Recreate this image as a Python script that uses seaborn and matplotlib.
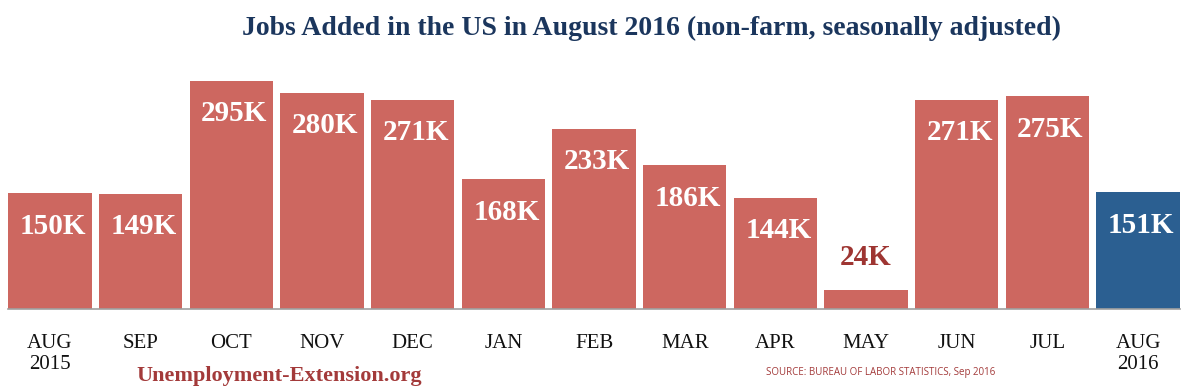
import matplotlib
matplotlib.use("Agg")
import matplotlib.pyplot as plt
import seaborn as sns
import pandas as pd

months = ["AUG\n2015", "SEP", "OCT", "NOV", "DEC", "JAN", "FEB", "MAR", "APR", "MAY", "JUN", "JUL", "AUG\n2016"]
jobs = [150, 149, 295, 280, 271, 168, 233, 186, 144, 24, 271, 275, 151]
labels = ["150K", "149K", "295K", "280K", "271K", "168K", "233K", "186K", "144K", "24K", "271K", "275K", "151K"]
highlight = ["past"] * 12 + ["latest"]

sns.set_theme(style="white")
plt.rcParams["font.family"] = ["Liberation Serif", "DejaVu Serif"]

df = pd.DataFrame({"month": months, "jobs": jobs, "kind": highlight})

fig = plt.figure(figsize=(11.84, 3.9), dpi=100)
W, H = 1184, 390
x_left = 8.3
pitch = 90.67
ax_w = 12.92 * pitch
base_y = 309
ymax = 320
scale = 0.773
ax_h = ymax * scale
ax = fig.add_axes([x_left / W, (H - base_y) / H, ax_w / W, ax_h / H])

sns.barplot(data=df, x="month", y="jobs", hue="kind",
            palette={"past": "#cd6760", "latest": "#2b5f91"},
            width=0.92, dodge=False, legend=False, ax=ax, saturation=1,
            edgecolor="none", linewidth=0)

ax.set_xlim(-0.46, 12.46)
ax.set_ylim(0, ymax)
for s in ["top", "right", "left"]:
    ax.spines[s].set_visible(False)
ax.spines["bottom"].set_color("#a0a0a0")
ax.spines["bottom"].set_linewidth(1.2)
ax.set_yticks([])
ax.set_xlabel("")
ax.set_ylabel("")
ax.tick_params(axis="x", length=0, pad=18, labelsize=15, labelcolor="#111111")
for t in ax.get_xticklabels():
    t.set_linespacing(1.15)
    t.set_verticalalignment("top")

for i, (v, lab) in enumerate(zip(jobs, labels)):
    if v < 60:
        ax.annotate(lab, (i, v), xytext=(0, 33), textcoords="offset pixels",
                    ha="center", va="center", fontsize=21, fontweight="bold",
                    color="#9e3532")
    else:
        ax.annotate(lab, (i, v), xytext=(3, -33), textcoords="offset pixels",
                    ha="center", va="center", fontsize=21, fontweight="bold",
                    color="white")

fig.text(652 / W, 1 - 28 / H, "Jobs Added in the US in August 2016 (non-farm, seasonally adjusted)",
         ha="center", va="center", fontsize=20, fontweight="bold", color="#1b365d")
fig.text(279 / W, 1 - 376 / H, "Unemployment-Extension.org", ha="center", va="center",
         fontsize=16, fontweight="bold", color="#a33a3a")
fig.text(881 / W, 1 - 373 / H, "SOURCE: BUREAU OF LABOR STATISTICS, Sep 2016", ha="center",
         va="center", fontsize=7, color="#a33a3a", family=["Open Sans", "DejaVu Sans"])

fig.savefig("out.png", dpi=100)
